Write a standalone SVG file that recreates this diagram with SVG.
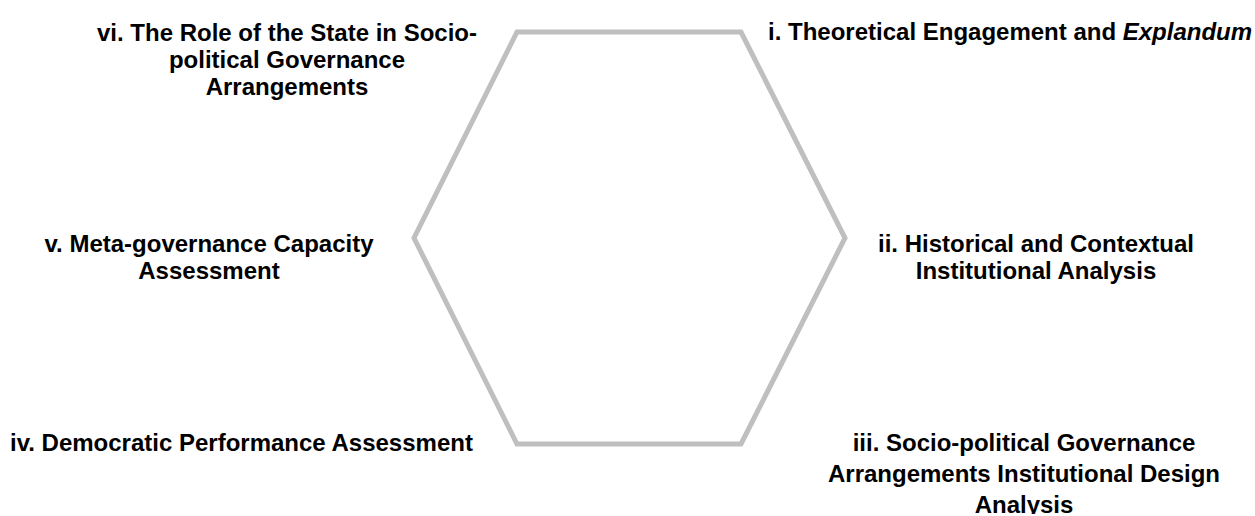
<svg xmlns="http://www.w3.org/2000/svg" width="1255" height="516" viewBox="0 0 1255 516">
<style>
.lbl{font-family:"Liberation Sans",Arial,sans-serif;font-weight:bold;font-size:24px;fill:#000}
.hex{fill:none;stroke:#BFBFBF;stroke-width:5;stroke-linejoin:miter}
</style>
<defs>
<clipPath id="clipIII"><rect x="0" y="0" width="1255" height="514"/></clipPath>
</defs>
<rect width="1255" height="516" fill="#fff"/>
<g id="hexagon">
<polygon class="hex" points="517,32 741,32 845,238 741,444 517,444 414,238"/>
</g>
<g id="connectors"></g>
<g id="node-vi">
<text class="lbl" text-anchor="middle"><tspan x="287" y="41">vi. The Role of the State in Socio-</tspan><tspan x="287" y="68">political Governance</tspan><tspan x="287" y="95">Arrangements</tspan></text>
</g>
<g id="node-i">
<text class="lbl" x="768" y="40">i. Theoretical Engagement and <tspan font-style="italic">Explandum</tspan></text>
</g>
<g id="node-v">
<text class="lbl" text-anchor="middle"><tspan x="209" y="252">v. Meta-governance Capacity</tspan><tspan x="209" y="279">Assessment</tspan></text>
</g>
<g id="node-ii">
<text class="lbl" text-anchor="middle"><tspan x="1036" y="252">ii. Historical and Contextual</tspan><tspan x="1036" y="279">Institutional Analysis</tspan></text>
</g>
<g id="node-iv">
<text class="lbl" x="10" y="451">iv. Democratic Performance Assessment</text>
</g>
<g id="node-iii" clip-path="url(#clipIII)">
<text class="lbl" text-anchor="middle"><tspan x="1024" y="451">iii. Socio-political Governance</tspan><tspan x="1024" y="482">Arrangements Institutional Design</tspan><tspan x="1024" y="513">Analysis</tspan></text>
</g>
</svg>
